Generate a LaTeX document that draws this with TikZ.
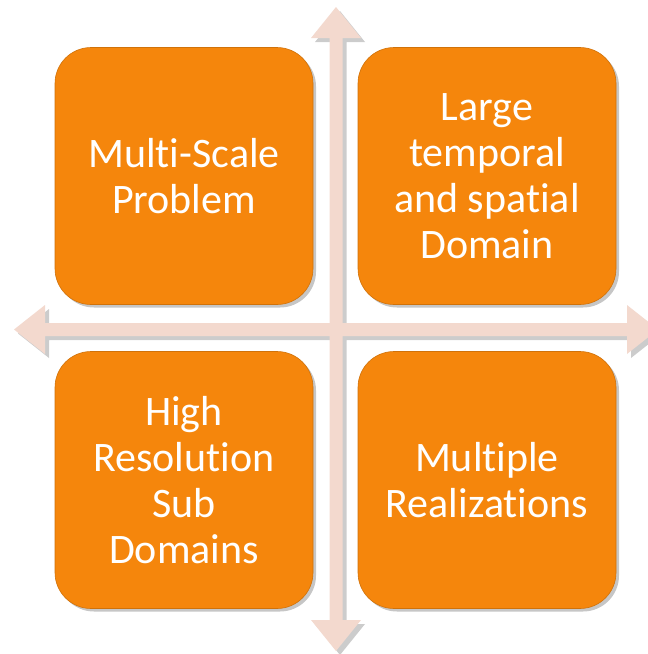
\documentclass[tikz,border=0pt]{standalone}
\usepackage{fontspec}
\setmainfont{Carlito}[Ligatures=NoCommon]
\usetikzlibrary{shadows}
\begin{document}
\begin{tikzpicture}[x=1pt,y=-1pt,
  quad/.style={draw=boxorange!85!black, line width=0.6pt, fill=boxorange, rounded corners=36pt,
    minimum width=258pt, minimum height=257pt, inner sep=0pt, text=white, align=center,
    font=\fontsize{42}{46}\selectfont,
    drop shadow={opacity=0.45, shadow xshift=3pt, shadow yshift=-3pt}},
  crossarrow/.style={fill=arrowpink,
    drop shadow={opacity=0.4, shadow xshift=4pt, shadow yshift=-4pt}}]
\definecolor{boxorange}{RGB}{245,134,12}
\definecolor{arrowpink}{RGB}{243,217,206}
\useasboundingbox (0,0) rectangle (648,654);
% the two double arrows, one path so they join
\fill[crossarrow] (14,329.5) -- (45,305) -- (45,323) -- (627,323) -- (627,305) -- (658,329.5) -- (627,354) -- (627,336) -- (45,336) -- (45,354) -- cycle
  (336,7) -- (361,38) -- (342.5,38) -- (342.5,620) -- (361,620) -- (336,651) -- (311,620) -- (329.5,620) -- (329.5,38) -- (311,38) -- cycle;
% the four boxes
\node[quad] (multiscale) at (184,176) {Multi-Scale\\Problem};
\node[quad] (largedomain) at (487,176) {Large\\temporal\\and spatial\\Domain};
\node[quad] (highres) at (184,480) {High\\Resolution\\Sub\\Domains};
\node[quad] (multireal) at (487,480) {Multiple\\Realizations};
\end{tikzpicture}
\end{document}
